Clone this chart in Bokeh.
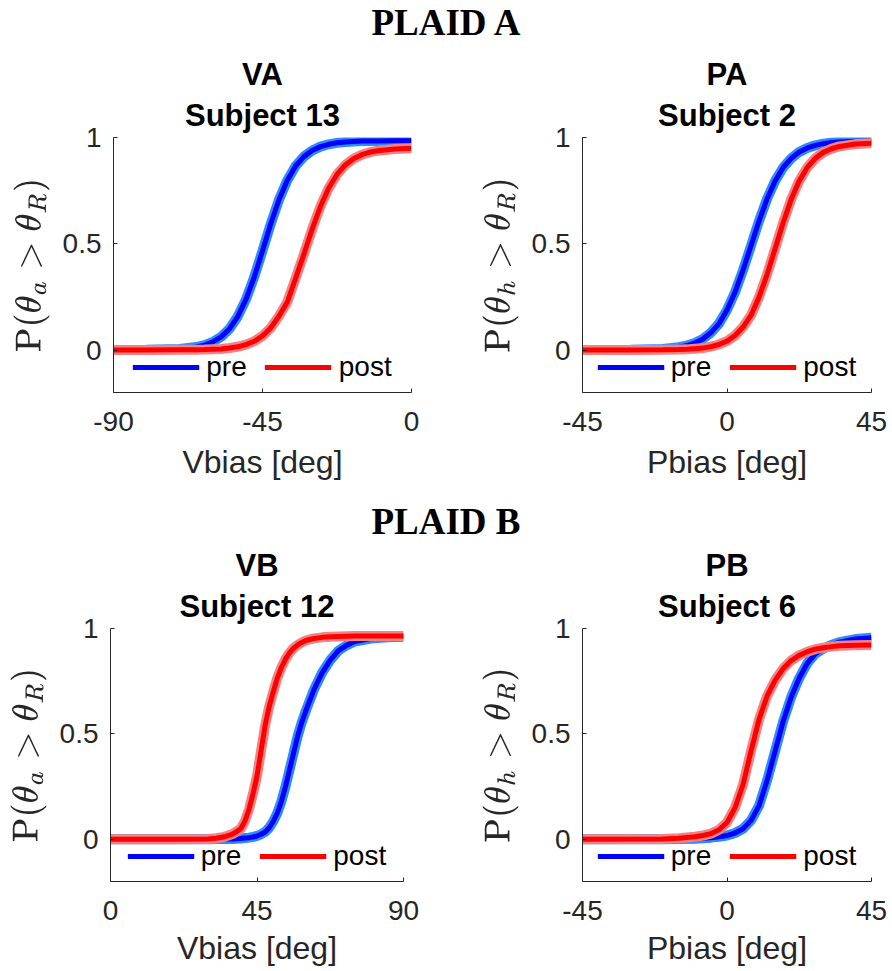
from bokeh.plotting import figure
from bokeh.models import Range1d, FixedTicker, Legend, LegendItem, Title, Div
from bokeh.layouts import column, row
from bokeh.embed import file_html
from bokeh.resources import INLINE

# ---------------- data ----------------
va_x = [-90, -80, -70, -65, -62.5, -60, -57.5, -55, -52.5, -50, -47.5, -45, -42.5, -40,
        -37.5, -35, -32.5, -30, -27.5, -25, -22.5, -20, -17.5, -15, -12.5, -10, -5, 0]
va_pre = [0, 0.001, 0.005, 0.014, 0.023, 0.038, 0.062, 0.099, 0.157, 0.238, 0.343, 0.467, 0.594, 0.708,
          0.799, 0.866, 0.910, 0.939, 0.957, 0.968, 0.975, 0.979, 0.981, 0.983, 0.984, 0.984, 0.985, 0.985]
va_post = [0, 0, 0.001, 0.001, 0.002, 0.0035, 0.005, 0.0095, 0.015, 0.025, 0.041, 0.066, 0.104, 0.160,
           0.226, 0.337, 0.451, 0.569, 0.675, 0.762, 0.826, 0.871, 0.900, 0.919, 0.931, 0.938, 0.946, 0.949]

pa_x = [-45, -30, -20, -15, -12.5, -10, -7.5, -5, -2.5, 0, 2.5, 5, 7.5, 10, 12.5, 15, 17.5,
        20, 22.5, 25, 27.5, 30, 32.5, 35, 40, 45]
pa_pre = [0, 0.001, 0.005, 0.013, 0.021, 0.033, 0.052, 0.082, 0.124, 0.188, 0.272, 0.376, 0.492, 0.608,
          0.712, 0.796, 0.859, 0.902, 0.932, 0.951, 0.963, 0.971, 0.976, 0.979, 0.982, 0.983]
pa_post = [0, 0, 0.001, 0.002, 0.003, 0.006, 0.009, 0.016, 0.026, 0.042, 0.068, 0.108, 0.164, 0.250,
           0.356, 0.478, 0.600, 0.709, 0.796, 0.859, 0.902, 0.930, 0.947, 0.958, 0.969, 0.973]

vb_x = [0, 20, 30, 32.5, 35, 37.5, 40, 41.25, 42.5, 43.75, 45, 46.25, 47.5, 48.75, 50, 51.25, 52.5,
        53.75, 55, 56.25, 57.5, 58.75, 60, 62.5, 65, 67.5, 70, 72.5, 75, 80, 85, 90]
vb_pre = [0, 0, 0, 0.001, 0.001, 0.002, 0.004, 0.006, 0.008, 0.011, 0.016, 0.024, 0.035, 0.055, 0.085,
          0.125, 0.18, 0.25, 0.33, 0.41, 0.49, 0.555, 0.61, 0.71, 0.79, 0.85, 0.895, 0.92, 0.938,
          0.952, 0.958, 0.961]
vb_post = [0, 0, 0.002, 0.005, 0.012, 0.025, 0.05, 0.085, 0.14, 0.215, 0.30, 0.42, 0.54, 0.63, 0.70,
           0.765, 0.815, 0.855, 0.885, 0.907, 0.922, 0.934, 0.943, 0.953, 0.958, 0.961, 0.962, 0.963,
           0.964, 0.964, 0.965, 0.965]

pb_x = [-45, -20, -15, -10, -7.5, -5, -2.5, 0, 2.5, 5, 7.5, 10, 12.5, 15, 17.5, 20, 22.5, 25,
        27.5, 30, 32.5, 35, 40, 45]
pb_pre = [0, 0, 0.001, 0.003, 0.005, 0.008, 0.012, 0.018, 0.03, 0.05, 0.09, 0.16, 0.28, 0.42, 0.56,
          0.675, 0.765, 0.835, 0.88, 0.905, 0.922, 0.935, 0.95, 0.956]
pb_post = [0, 0.002, 0.005, 0.012, 0.018, 0.027, 0.045, 0.08, 0.15, 0.26, 0.42, 0.57, 0.68, 0.755, 0.81,
           0.848, 0.873, 0.89, 0.902, 0.909, 0.914, 0.918, 0.921, 0.922]

y_ticks = [0, 0.5, 1]
y_tick_labels = ["0", "0.5", "1"]
va_ticks, va_tick_labels = [-90, -45, 0], ["-90", "-45", "0"]
pa_ticks, pa_tick_labels = [-45, 0, 45], ["-45", "0", "45"]
vb_ticks, vb_tick_labels = [0, 45, 90], ["0", "45", "90"]
pb_ticks, pb_tick_labels = [-45, 0, 45], ["-45", "0", "45"]

series_labels = ["pre", "post"]
# ----------------------------------------------------------------

SANS = "Liberation Sans"
DARK = "#262626"
PRE_C, PRE_BAND = "#0000ff", "#2e8cff"
POST_C, POST_BAND = "#ff0000", "#f58282"


def panel(xs, pre, post, xlim, xt, xtl, xlabel, ysub, top, sub, width, height,
          bl, br, bt, bb, tick_standoff, label_standoff):
    p = figure(width=width, height=height, output_backend="svg", toolbar_location=None,
               x_range=Range1d(*xlim), y_range=Range1d(-0.2, 1.0),
               min_border_left=bl, min_border_right=br, min_border_top=bt, min_border_bottom=bb)
    p.outline_line_color = None
    p.xgrid.visible = False
    p.ygrid.visible = False
    p.background_fill_color = "white"
    p.border_fill_alpha = 0

    p.line(xs, pre, line_color=PRE_BAND, line_width=10)
    lpre = p.line(xs, pre, line_color=PRE_C, line_width=5)
    p.line(xs, post, line_color=POST_BAND, line_width=10)
    lpost = p.line(xs, post, line_color=POST_C, line_width=5)

    for ax in (p.xaxis[0], p.yaxis[0]):
        ax.axis_line_color = DARK
        ax.major_tick_line_color = DARK
        ax.major_tick_in = 4
        ax.major_tick_out = 0
        ax.minor_tick_line_color = None
        ax.major_label_text_font = SANS
        ax.major_label_text_font_size = "28px"
        ax.major_label_text_color = DARK
        ax.axis_label_text_font = SANS
        ax.axis_label_text_font_size = "32px"
        ax.axis_label_text_font_style = "normal"
        ax.axis_label_text_color = DARK

    p.xaxis.ticker = FixedTicker(ticks=xt)
    p.xaxis.major_label_overrides = {t: s for t, s in zip(xt, xtl)}
    p.xaxis.axis_label = xlabel
    p.xaxis.major_label_standoff = tick_standoff
    p.xaxis.axis_label_standoff = label_standoff

    p.yaxis.ticker = FixedTicker(ticks=y_ticks)
    p.yaxis.major_label_overrides = {t: s for t, s in zip(y_ticks, y_tick_labels)}
    p.yaxis.major_label_standoff = 12
    p.yaxis.axis_label = r"$$\mathrm{P}(\theta_%s > \theta_R)$$" % ysub
    p.yaxis.axis_label_text_font_size = "30px"
    p.yaxis.axis_label_standoff = 10

    # p.title sits outermost; the added Title sits next to the frame
    p.title.text = top
    p.title.align = "center"
    p.title.text_font = SANS
    p.title.text_font_size = "31px"
    p.title.text_font_style = "bold"
    p.title.text_color = "black"
    p.title.standoff = 0
    p.add_layout(Title(text=sub, align="center", text_font=SANS, text_font_size="31px",
                       text_font_style="bold", text_color="black", standoff=9), "above")

    leg = Legend(items=[LegendItem(label=series_labels[0], renderers=[lpre]),
                        LegendItem(label=series_labels[1], renderers=[lpost])],
                 orientation="horizontal", location="bottom")
    leg.glyph_width = 67
    leg.glyph_height = 10
    leg.label_standoff = 7
    leg.spacing = 18
    leg.padding = 0
    leg.margin = 9
    leg.label_text_font = SANS
    leg.label_text_font_size = "28px"
    leg.label_text_color = "black"
    leg.background_fill_alpha = 0
    leg.border_line_alpha = 0
    p.add_layout(leg)
    return p


f1 = panel(va_x, va_pre, va_post, (-90, 0), va_ticks, va_tick_labels, "Vbias [deg]", "a",
           "VA", "Subject 13", 450, 458, 113, 39, 103, 100, 19, 10)
f2 = panel(pa_x, pa_pre, pa_post, (-45, 45), pa_ticks, pa_tick_labels, "Pbias [deg]", "h",
           "PA", "Subject 2", 442, 458, 132, 21, 103, 100, 19, 10)
f3 = panel(vb_x, vb_pre, vb_post, (0, 90), vb_ticks, vb_tick_labels, "Vbias [deg]", "a",
           "VB", "Subject 12", 450, 441, 110, 47, 101, 86, 19, 7)
f4 = panel(pb_x, pb_pre, pb_post, (-45, 45), pb_ticks, pb_tick_labels, "Pbias [deg]", "h",
           "PB", "Subject 6", 442, 441, 132, 21, 101, 86, 19, 7)


def head(text, h):
    return Div(text=text, width=892, height=h, margin=(0, 0, 0, 0),
               styles={"font-family": "'Liberation Serif', serif", "font-weight": "bold",
                       "font-size": "37px", "text-align": "center", "color": "black",
                       "line-height": "%dpx" % h, "width": "892px"})


layout = column(head("PLAID A", 46), row(f1, f2, spacing=0, margin=(-12, 0, 0, 0)),
                head("PLAID B", 60), row(f3, f4, spacing=0, margin=(-25, 0, 0, 0)),
                spacing=0)

open("out.html", "w").write(file_html(layout, INLINE))
